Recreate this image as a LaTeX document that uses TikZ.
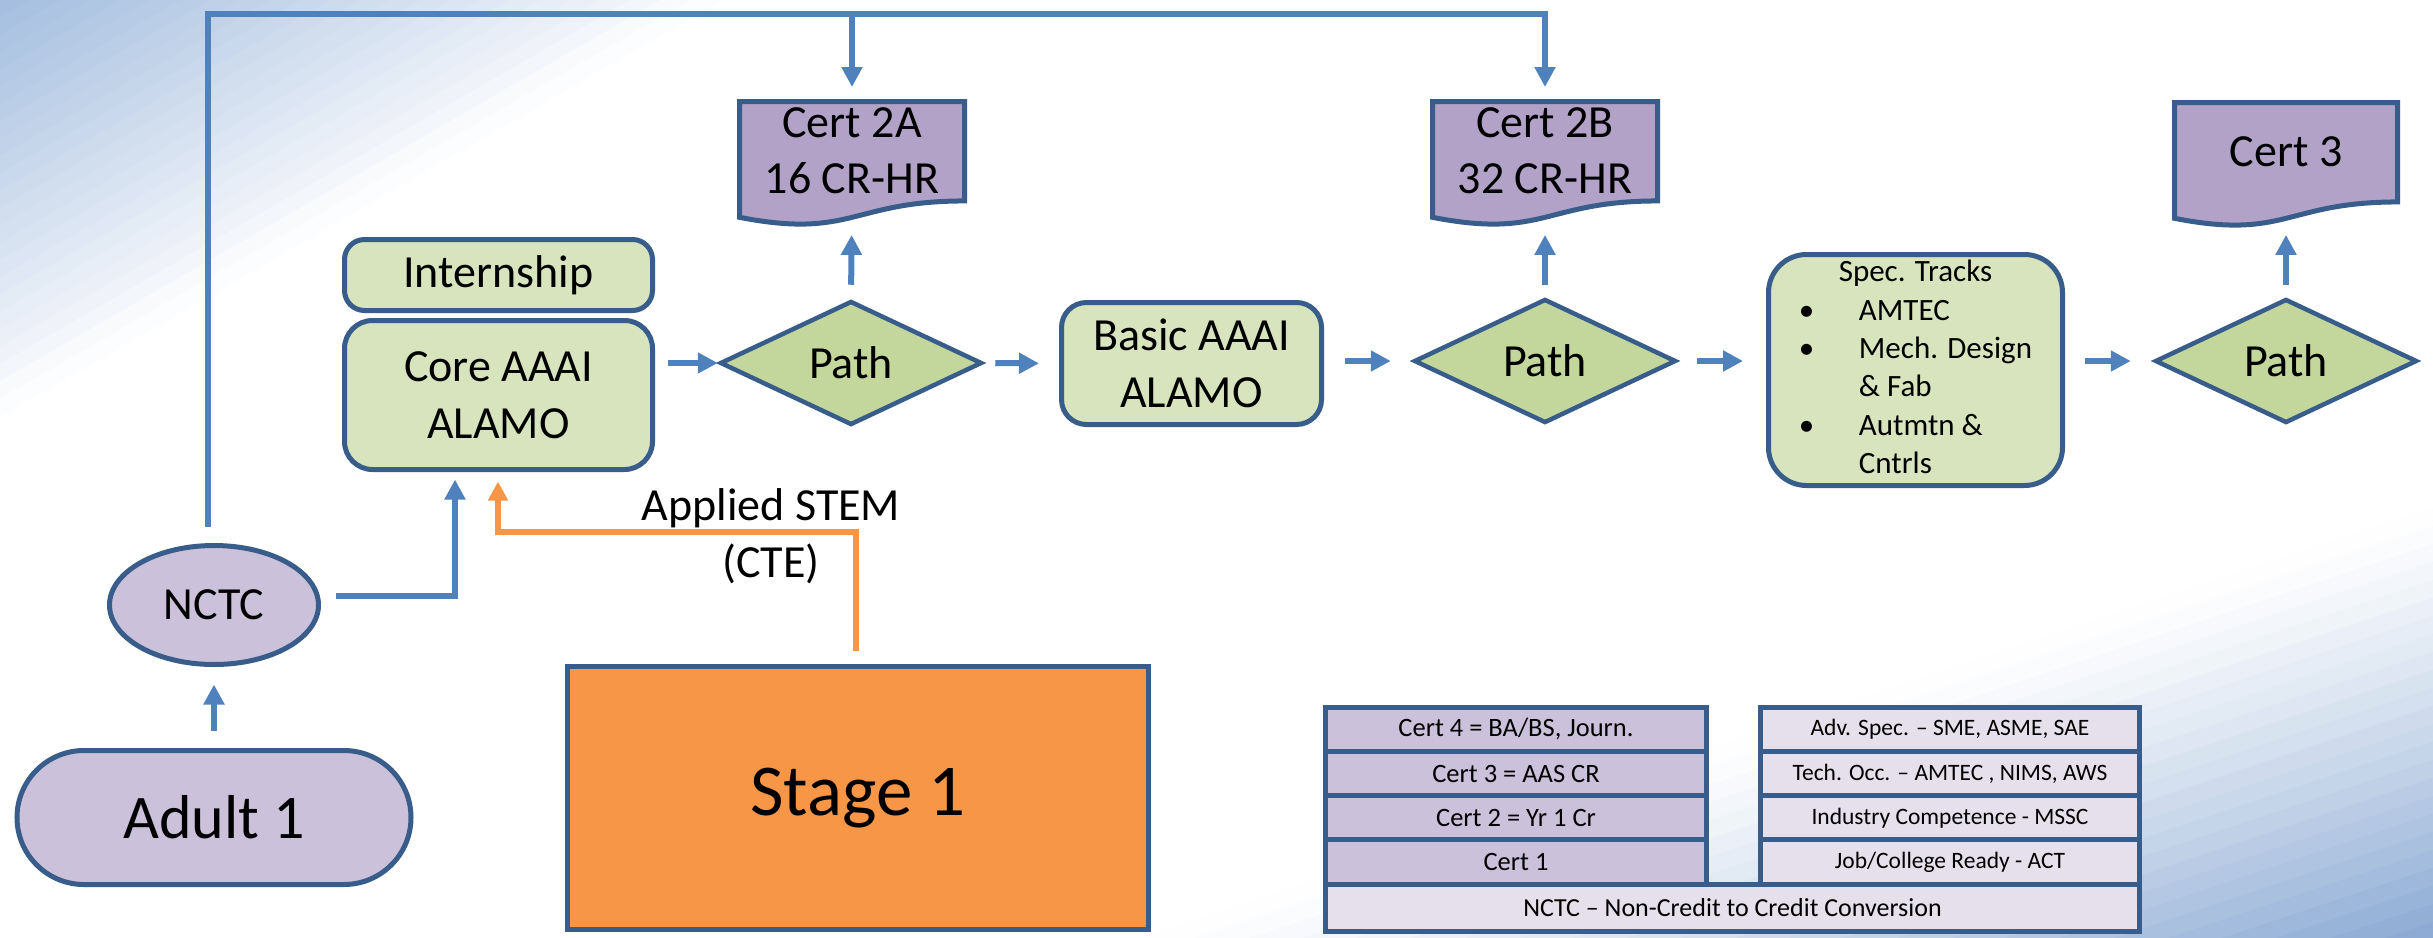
\documentclass[tikz,border=0pt]{standalone}
\usepackage{fontspec}
\setmainfont{Carlito}
\usetikzlibrary{shapes.geometric,shapes.misc,arrows.meta}
\definecolor{bordc}{HTML}{385D8A}
\definecolor{arrc}{HTML}{4F81BD}
\definecolor{greenf}{HTML}{D7E4BD}
\definecolor{diamf}{HTML}{C3D69B}
\definecolor{certf}{HTML}{B3A2C7}
\definecolor{lilac}{HTML}{CCC1DA}
\definecolor{pale}{HTML}{E6E0EC}
\definecolor{orng}{HTML}{F79646}
\definecolor{bgA}{HTML}{A4BEDF}
\definecolor{bgB}{HTML}{8AA9D3}
\newcommand\fsz[2]{\fontsize{#1pt}{#2pt}\selectfont}
\newcommand\docshape[4]{%
  \draw[docbox] (#1,#2) -- ({#1+#3},#2) -- ({#1+#3},{#2+0.802*#4})
    .. controls ({#1+0.5*#3},{#2+0.802*#4}) and ({#1+0.5*#3},{#2+1.1106*#4}) .. (#1,{#2+0.934*#4}) -- cycle;}
\tikzset{
  box/.style={draw=bordc, line width=5pt, fill=greenf, inner sep=0pt, align=center, font=\fsz{46}{57}},
  pathd/.style={diamond, draw=bordc, line width=4.5pt, fill=diamf, minimum width=262pt, minimum height=124pt, inner sep=0pt, font=\fsz{46}{57}},
  doctext/.style={inner sep=0pt, minimum width=225pt, minimum height=99pt, align=center, font=\fsz{46}{56}},
  docbox/.style={draw=bordc, line width=5pt, fill=certf},
  conn/.style={draw=arrc, line width=6pt, -{Triangle[length=20pt,width=20pt]}},
  bus/.style={draw=arrc, line width=5.5pt},
  orangeconn/.style={draw=orng, line width=6pt, -{Triangle[length=19pt,width=19pt]}},
  lrow/.style={draw=bordc, line width=5pt, fill=lilac, inner sep=0pt, minimum width=381pt, minimum height=44.3pt, font=\fsz{26.5}{30}},
  rrow/.style={draw=bordc, line width=5pt, fill=pale, inner sep=0pt, minimum width=379pt, minimum height=44.3pt, font=\fsz{23.5}{28}},
  lbl/.style={align=center, font=\fsz{46}{57}, inner sep=0pt},
  lilacshape/.style={draw=bordc, line width=5pt, fill=lilac, inner sep=0pt}
}
\begin{document}
\begin{tikzpicture}[x=1pt, y=-1pt, line join=miter]
\useasboundingbox (0,0) rectangle (2433,937);
% background
\fill[white] (0,0) rectangle (2433,937);
\begin{scope}
  \clip (0,0) rectangle (2433,937);
  \foreach \i in {0,...,23}{
    \pgfmathsetmacro\ua{360*\i/24 - (\i==0)*80}
    \pgfmathsetmacro\ub{360*(\i+1)/24 + 1}
    \pgfmathsetmacro\pc{100*(1-(\i+0.5)/24)^0.9}
    \fill[bgA!\pc!white] ({\ua*0.5+2500*0.866},{\ua*0.866-2500*0.5}) -- ({\ua*0.5-2500*0.866},{\ua*0.866+2500*0.5})
      -- ({\ub*0.5-2500*0.866},{\ub*0.866+2500*0.5}) -- ({\ub*0.5+2500*0.866},{\ub*0.866-2500*0.5}) -- cycle;
  }
  \foreach \i in {0,...,23}{
    \pgfmathsetmacro\ua{1250+410*\i/24}
    \pgfmathsetmacro\ub{1250+410*(\i+1)/24 + 1 + (\i==23)*400}
    \pgfmathsetmacro\pc{100*((\i+0.5)/24)^1.2}
    \fill[bgB!\pc!white] ({\ua*0.316+3000*0.949},{\ua*0.949-3000*0.316}) -- ({\ua*0.316-3000*0.949},{\ua*0.949+3000*0.316})
      -- ({\ub*0.316-3000*0.949},{\ub*0.949+3000*0.316}) -- ({\ub*0.316+3000*0.949},{\ub*0.949-3000*0.316}) -- cycle;
  }
\end{scope}

% certificate documents
\docshape{739.5}{101.5}{225}{124}
\node[doctext] (c2a) at (852,151.2) {Cert 2A\\16 CR-HR};
\docshape{1432.5}{101.5}{225}{124}
\node[doctext] (c2b) at (1545,151.2) {Cert 2B\\32 CR-HR};
\docshape{2174.5}{102.5}{223}{124}
\node[doctext, minimum width=223pt] (c3) at (2286,152.2) {Cert 3};

% main boxes
\node[box, rounded corners=20pt, minimum width=308pt, minimum height=71pt] (intern) at (498.5,275) {Internship};
\node[box, rounded corners=28pt, minimum width=308pt, minimum height=149pt] (core) at (498.5,395) {Core AAAI\\ALAMO};
\node[pathd] (path1) at (851,363) {Path};
\node[box, rounded corners=25pt, minimum width=260pt, minimum height=122pt] (basic) at (1191.5,363.5) {Basic AAAI\\ALAMO};
\node[pathd] (path2) at (1545,361) {Path};
\node[box, rounded corners=38pt, minimum width=294pt, minimum height=231pt, font=\fsz{31}{38.3}] (spec) at (1915.5,370)
 {\begin{tabular}{@{}p{60pt}@{}l@{}}\multicolumn{2}{c}{Spec. Tracks}\\ \textbullet & AMTEC\\ \textbullet & Mech. Design\\ & \& Fab\\ \textbullet & Autmtn \&\\ & Cntrls\end{tabular}};
\node[pathd] (path3) at (2286,361) {Path};

\node[lilacshape, ellipse, minimum width=209pt, minimum height=119pt, font=\fsz{46}{56}] (nctc) at (214,605) {NCTC};
\node[lilacshape, rounded rectangle, minimum width=394pt, minimum height=134pt, font=\fsz{62}{70}] (adult) at (214,817.5) {Adult 1};
\node[draw=bordc, line width=5pt, fill=orng, inner sep=0pt, minimum width=581pt, minimum height=263pt, font=\fsz{73}{80}] (stage) at (858,798) {Stage 1};

\node[lbl] (stem) at (771,536) {Applied STEM\\(CTE)};

% table
\node[lrow] (l4) at (1516,729.2) {Cert 4 = BA/BS, Journ.};
\node[lrow] (l3) at (1516,773.5) {Cert 3 = AAS CR};
\node[lrow] (l2) at (1516,817.8) {Cert 2 = Yr 1 Cr};
\node[lrow] (l1) at (1516,862.1) {Cert 1};
\node[rrow] (r4) at (1950,729.2) {Adv. Spec. – SME, ASME, SAE};
\node[rrow] (r3) at (1950,773.5) {Tech. Occ. – AMTEC , NIMS, AWS};
\node[rrow] (r2) at (1950,817.8) {Industry Competence - MSSC};
\node[rrow] (r1) at (1950,862.1) {Job/College Ready - ACT};
\node[rrow, minimum width=814pt, minimum height=46.8pt, font=\fsz{26}{30}] (nrow) at (1732.5,907.6) {NCTC – Non-Credit to Credit Conversion};

% connectors
\coordinate (busy) at (0,14);
\coordinate (oc) at (498,532);
\draw[bus, -{Triangle[length=20pt,width=20pt]}, shorten <=16.5pt, shorten >=14.5pt]
  ([xshift=-6pt]nctc.north) |- (c2b.north |- busy) -- (c2b.north);
\draw[bus, -{Triangle[length=20pt,width=20pt]}, shorten >=14.5pt] (c2a.north |- busy) -- (c2a.north);

\draw[conn, shorten <=12.5pt] (core.east |- path1) -- (path1.west);
\draw[conn, shorten <=11pt, shorten >=20pt] (path1.east) -- (basic.west);
\draw[conn, shorten <=21pt, shorten >=21pt] (basic.east |- path2) -- (path2.west);
\draw[conn, shorten <=19pt, shorten >=23pt] (path2.east) -- (spec.west |- path2);
\draw[conn, shorten <=20pt, shorten >=22pt] (spec.east |- path3) -- (path3.west);

\draw[conn, shorten <=14pt, shorten >=34pt] (path1.north) -- (c2a.south);
\draw[conn, shorten <=12pt, shorten >=34pt] (path2.north) -- (c2b.south);
\draw[conn, shorten <=12pt, shorten >=33pt] (path3.north) -- (c3.south);

\draw[conn, shorten <=17.5pt, shorten >=17.5pt] (adult.north) -- (nctc.south);
\draw[conn, shorten <=14.5pt, shorten >=7.5pt] ([yshift=9pt]nctc.east) -| ([xshift=-43.5pt]core.south);
\draw[orangeconn, shorten <=13.5pt, shorten >=9.5pt] ([xshift=-2pt]stage.north) |- (oc) -- (oc |- core.south);
\end{tikzpicture}
\end{document}
